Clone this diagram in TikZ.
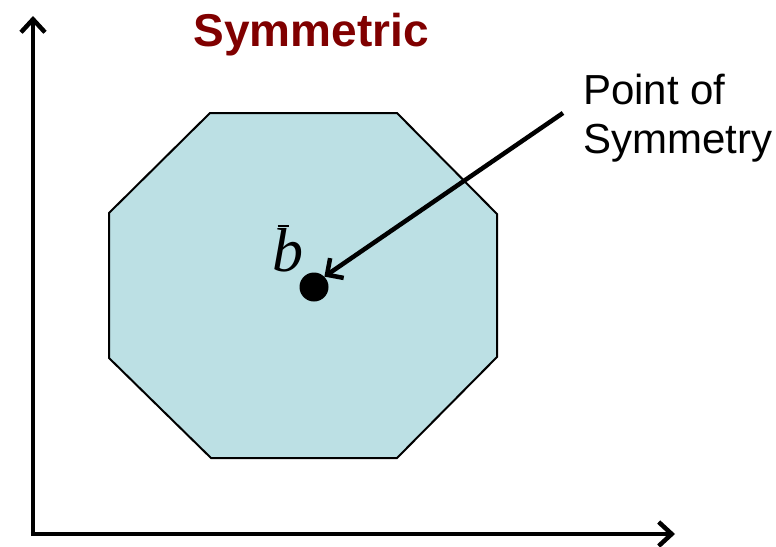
\documentclass[tikz,border=0pt]{standalone}
\usepackage{fontspec}
\setmainfont{Liberation Sans}
\newfontfamily\bfam{Liberation Serif}
\usetikzlibrary{arrows.meta}
\definecolor{octfill}{HTML}{BCE0E4}
\definecolor{titlered}{HTML}{800000}
\begin{document}
\begin{tikzpicture}[x=1pt,y=-1pt,
  axis/.style={line width=4.5pt,-{Straight Barb[length=13pt,width=24pt]}},
  pointer/.style={line width=4.5pt,-{Straight Barb[length=12pt,width=24pt]}},
  octagon/.style={draw=black,line width=2pt,fill=octfill,line join=miter}]
\useasboundingbox (0,0) rectangle (776,546);
% axes
\coordinate (origin) at (33,534);
\coordinate (ytip) at (33,16);
\coordinate (xtip) at (675,534);
\draw[axis] ([yshift=2.25pt]origin) -- (ytip);
\draw[axis] ([xshift=-2.25pt]origin) -- (xtip);
% octagon
\draw[octagon] (210,113) -- (397,113) -- (497,214) -- (497,357) -- (397,458) -- (211,458) -- (109,358) -- (109,213) -- cycle;
% center point
\node[circle,fill=black,minimum size=29pt,inner sep=0] (pt) at (314,287) {};
\node[anchor=base,inner sep=0,font=\bfam\itshape\fontsize{62}{62}\selectfont] (bbar) at (288,271) {b\llap{\rule[44pt]{11pt}{2.2pt}\kern 15pt}};
% title
\node[anchor=base,inner sep=0,text=titlered,font=\fontsize{46}{46}\selectfont\bfseries] (title) at (311,46) {Symmetric};
% label
\node[anchor=north west,inner sep=0,align=left,font=\fontsize{42}{49}\selectfont] (lbl) at (583,74) {Point of\\Symmetry};
\coordinate (pstart) at (563,113);
\draw[pointer] (pstart) -- (pt.north east);
\end{tikzpicture}
\end{document}
